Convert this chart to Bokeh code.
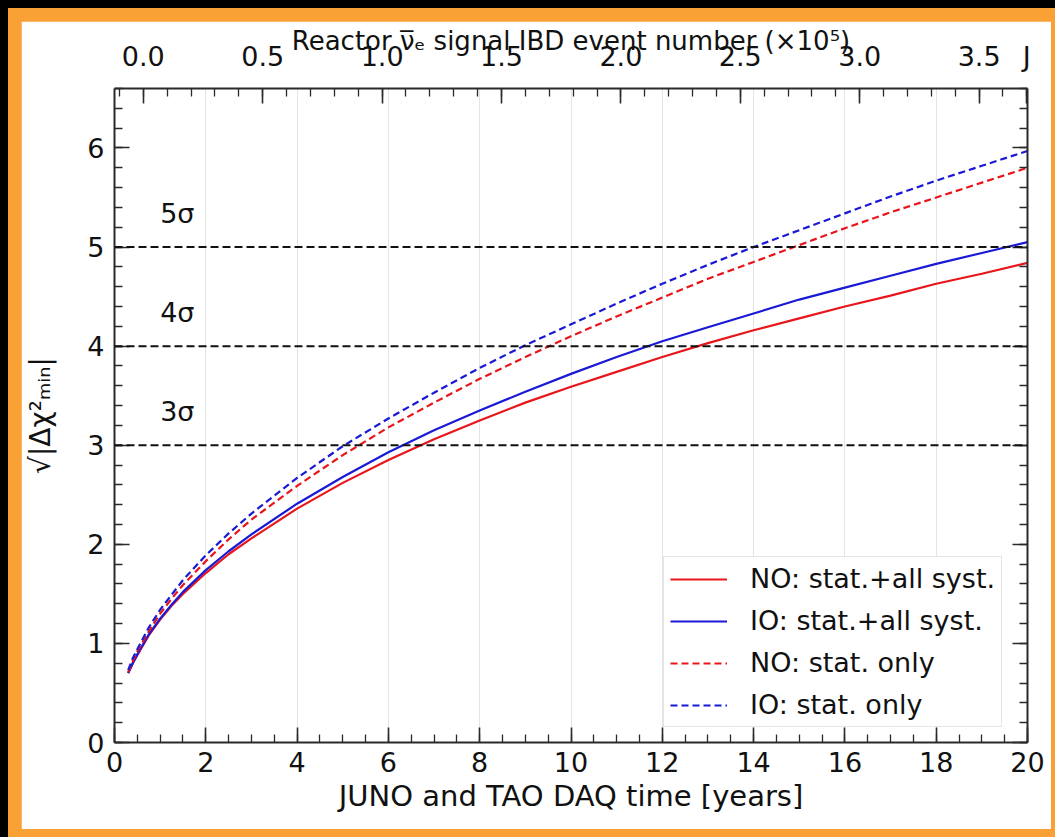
from bokeh.plotting import figure
from bokeh.models import (Range1d, LinearAxis, FixedTicker, PrintfTickFormatter,
                          Span, Legend, LegendItem, ColumnDataSource)
from bokeh.layouts import column
from bokeh.embed import file_html
from bokeh.resources import INLINE
from bokeh.core.properties import value

# ---------------- data ----------------
years = [0.3, 0.4, 0.5, 0.75, 1, 1.25, 1.5, 2, 2.5, 3, 4, 5, 6, 7, 8, 9, 10,
         11, 12, 13, 14, 15, 16, 17, 18, 19, 20]
no_syst = [0.70, 0.80, 0.88, 1.08, 1.24, 1.38, 1.50, 1.71, 1.90, 2.06, 2.36, 2.62, 2.85,
           3.06, 3.25, 3.43, 3.59, 3.74, 3.89, 4.03, 4.16, 4.28, 4.40, 4.51, 4.63, 4.73, 4.84]
io_syst = [0.70, 0.80, 0.89, 1.09, 1.25, 1.39, 1.52, 1.74, 1.93, 2.10, 2.41, 2.68, 2.93,
           3.15, 3.35, 3.54, 3.72, 3.89, 4.05, 4.19, 4.33, 4.47, 4.59, 4.71, 4.83, 4.94, 5.05]
no_stat = [0.71, 0.82, 0.92, 1.12, 1.30, 1.45, 1.59, 1.83, 2.05, 2.25, 2.59, 2.90, 3.18,
           3.43, 3.67, 3.89, 4.10, 4.30, 4.49, 4.68, 4.85, 5.02, 5.19, 5.35, 5.50, 5.65, 5.80]
io_stat = [0.73, 0.85, 0.94, 1.16, 1.34, 1.49, 1.64, 1.89, 2.11, 2.31, 2.67, 2.99, 3.27,
           3.53, 3.78, 4.01, 4.22, 4.43, 4.63, 4.82, 5.00, 5.17, 5.34, 5.51, 5.67, 5.82, 5.97]
series_names = ["NO: stat.+all syst.", "IO: stat.+all syst.", "NO: stat. only", "IO: stat. only"]

sigma_levels = [3, 4, 5]
sigma_labels = ["3σ", "4σ", "5σ"]

x_major = [0, 2, 4, 6, 8, 10, 12, 14, 16, 18, 20]
y_major = [0, 1, 2, 3, 4, 5, 6]
top_major = [0.0, 0.5, 1.0, 1.5, 2.0, 2.5, 3.0, 3.5]
corner_text = "J"          # truncated text at the top-right corner of the reference
corner_tick = 3.7
x_limits = (0, 20)
y_limits = (0, 6.6)
top_limits = (-0.1206, 3.7027)

# ---------------- style ----------------
FONT = "DejaVu Sans"
RED = "#e8161b"
BLUE = "#1a1ad6"
ORANGE = "#F9A134"
AXC = "#2a2a2a"

fig = figure(width=1030, height=808,
             x_range=Range1d(*x_limits), y_range=Range1d(*y_limits),
             output_backend="svg", toolbar_location=None,
             min_border_left=93, min_border_right=24, min_border_top=67, min_border_bottom=87,
             background_fill_color="white", border_fill_color="white",
             outline_line_color=None)
fig.margin = (13, 4, 8, 13)

fig.extra_x_ranges = {"ibd": Range1d(*top_limits)}

x_minor = [m * 0.5 for m in range(0, 41)]
y_minor = [round(m * 0.2, 2) for m in range(0, 34)]
top_minor = [round(-0.1 + m * 0.1, 2) for m in range(0, 39)]


def style_axis(ax, label_size="27px", standoff=8):
    ax.axis_line_color = AXC
    ax.axis_line_width = 2
    ax.major_tick_line_color = AXC
    ax.minor_tick_line_color = AXC
    ax.major_tick_line_width = 1.6
    ax.minor_tick_line_width = 1.3
    ax.major_tick_in = 15
    ax.major_tick_out = 0
    ax.minor_tick_in = 8
    ax.minor_tick_out = 0
    ax.major_label_text_font = FONT
    ax.major_label_text_font_size = label_size
    ax.major_label_text_color = "#111111"
    ax.major_label_standoff = standoff
    ax.axis_label_text_font = FONT
    ax.axis_label_text_font_style = "normal"
    ax.axis_label_text_color = "#111111"


xa = fig.xaxis[0]
xa.ticker = FixedTicker(ticks=x_major, minor_ticks=x_minor)
style_axis(xa, standoff=9)
xa.axis_label = "JUNO and TAO DAQ time [years]"
xa.axis_label_text_font_size = "29px"
xa.axis_label_standoff = 4

ya = fig.yaxis[0]
ya.ticker = FixedTicker(ticks=y_major, minor_ticks=y_minor)
style_axis(ya, standoff=10)
ya.axis_label = "√|Δχ²ₘᵢₙ|"
ya.axis_label_text_font_size = "28px"
ya.axis_label_standoff = 27

top = LinearAxis(x_range_name="ibd",
                 ticker=FixedTicker(ticks=top_major + [corner_tick], minor_ticks=top_minor),
                 formatter=PrintfTickFormatter(format="%.1f"))
style_axis(top, standoff=17)
top.major_label_overrides = {corner_tick: corner_text}
top.axis_label = "Reactor ν̅ₑ signal IBD event number (×10⁵)"
top.axis_label_text_font_size = "26px"
top.axis_label_standoff = -18
fig.add_layout(top, "above")

right = LinearAxis(ticker=FixedTicker(ticks=y_major, minor_ticks=y_minor))
style_axis(right, standoff=0)
right.major_label_text_font_size = "0px"
right.major_label_text_alpha = 0
fig.add_layout(right, "right")

fig.xgrid.ticker = FixedTicker(ticks=x_major)
fig.xgrid.grid_line_color = "#e4e4e4"
fig.xgrid.grid_line_width = 1
fig.ygrid.grid_line_color = None

# sigma reference lines
for lvl in sigma_levels:
    fig.add_layout(Span(location=lvl, dimension="width", line_color="#111111",
                        line_width=2, line_dash="8 4"))

sig_src = ColumnDataSource(dict(x=[1.0] * len(sigma_levels),
                                y=[lvl + 0.34 for lvl in sigma_levels],
                                t=sigma_labels))
fig.text(x="x", y="y", text="t", source=sig_src, text_font=value(FONT),
         text_font_size="27px", text_color="#111111",
         text_align="left", text_baseline="middle")

# curves
r1 = fig.line(years, no_syst, line_color=RED, line_width=2.2)
r2 = fig.line(years, io_syst, line_color=BLUE, line_width=2.2)
r3 = fig.line(years, no_stat, line_color=RED, line_width=2.2, line_dash="7 4")
r4 = fig.line(years, io_stat, line_color=BLUE, line_width=2.2, line_dash="7 4")

legend = Legend(items=[LegendItem(label=series_names[0], renderers=[r1]),
                       LegendItem(label=series_names[1], renderers=[r2]),
                       LegendItem(label=series_names[2], renderers=[r3]),
                       LegendItem(label=series_names[3], renderers=[r4])],
                location=(549, 15))
legend.label_text_font = FONT
legend.label_text_font_size = "27px"
legend.label_text_color = "#111111"
legend.glyph_width = 57
legend.glyph_height = 30
legend.label_height = 30
legend.label_standoff = 23
legend.spacing = 11
legend.padding = 6
legend.margin = 0
legend.border_line_color = "#cccccc"
legend.border_line_width = 1.2
legend.background_fill_color = "white"
legend.background_fill_alpha = 0.9
fig.add_layout(legend)

mid = column(fig, styles={"background-color": ORANGE}, margin=(8, 0, 0, 8))
p = column(mid, styles={"background-color": "black"})

open("out.html", "w").write(file_html(p, INLINE))
